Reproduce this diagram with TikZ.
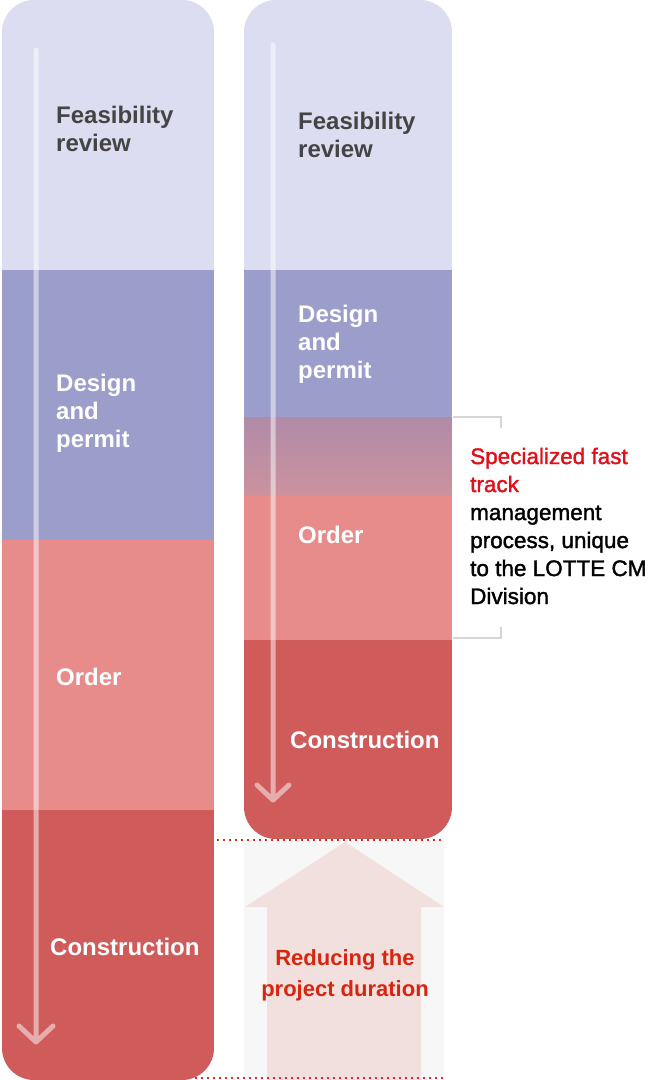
\documentclass[tikz,border=0pt]{standalone}
\usepackage{fontspec}
\setmainfont{Liberation Sans}
\newfontfamily\medfont[FakeBold=1.6]{Liberation Sans}
\definecolor{feas}{HTML}{DCDDF0}
\definecolor{design}{HTML}{9B9DCB}
\definecolor{order}{HTML}{E88C8B}
\definecolor{constr}{HTML}{D05B5B}
\definecolor{gradtop}{HTML}{B08BA8}
\definecolor{gradbot}{HTML}{CC929E}
\definecolor{feastext}{HTML}{444444}
\definecolor{hired}{HTML}{E0101A}
\definecolor{redtext}{HTML}{D8250F}
\definecolor{graybg}{HTML}{F7F7F7}
\definecolor{arrowfill}{HTML}{F2E0DE}
\definecolor{bracketgray}{HTML}{D5D5D5}
\definecolor{dotred}{HTML}{E02A1A}
\begin{document}
\begin{tikzpicture}[x=1pt,y=-1pt,
  lbl/.style={font=\bfseries\fontsize{24}{28}\selectfont, text=white, anchor=west, align=left, inner sep=0pt},
  flowline/.style={white, opacity=0.5, line width=5pt, line cap=round, line join=round},
  dotline/.style={dotred, line width=2.4pt, dash pattern=on 2.4pt off 3.6pt},
  bracketline/.style={bracketgray, line width=1.5pt}]
\useasboundingbox (0,0) rectangle (648,1080);
\fill[white] (0,0) rectangle (648,1080);

% reduction area
\fill[graybg] (244,840) rectangle (444,1080);
\fill[arrowfill] (345,842) -- (444,907) -- (421,907) -- (421,1080) -- (267,1080) -- (267,907) -- (245,907) -- cycle;

% left column
\begin{scope}
\clip[rounded corners=32pt] (2,0) rectangle (214,1080);
\fill[feas] (2,0) rectangle (214,270);
\fill[design] (2,270) rectangle (214,540);
\fill[order] (2,540) rectangle (214,810);
\fill[constr] (2,810) rectangle (214,1080);
\end{scope}
\draw[flowline] (36,50) -- (36,1042) (19,1026) -- (36,1042) -- (53,1026);

% right column
\begin{scope}
\clip[rounded corners=32pt] (244,0) rectangle (452,839);
\fill[feas] (244,0) rectangle (452,270);
\fill[design] (244,270) rectangle (452,417);
\shade[top color=gradtop, bottom color=gradbot] (244,417) rectangle (452,496);
\fill[order] (244,496) rectangle (452,640);
\fill[constr] (244,640) rectangle (452,839);
\end{scope}
\draw[flowline] (273,45) -- (273,800) (257,785) -- (273,800) -- (289,785);

% dotted lines
\draw[dotline] (217,840) -- (444,840);
\draw[dotline] (195,1078) -- (445,1078);

% bracket
\draw[bracketline] (453,417) -- (501,417) -- (501,428);
\draw[bracketline] (453,638) -- (501,638) -- (501,627);

% labels left
\node[lbl, text=feastext] (lf) at (56,129) {Feasibility\\review};
\node[lbl] (ld) at (56,413) {Design\\and\\permit};
\node[lbl] (lo) at (56,677) {Order};
\node[lbl] (lc) at (50,947) {Construction};

% labels right
\node[lbl, text=feastext] (rf) at (298,135) {Feasibility\\review};
\node[lbl] (rd) at (298,344) {Design\\and\\permit};
\node[lbl] (ro) at (298,535) {Order};
\node[lbl] (rc) at (290,740) {Construction};

\node[anchor=west, align=left, inner sep=0pt, font=\medfont\fontsize{22.5}{28}\selectfont] (note) at (470,526)
  {\textcolor{hired}{Specialized fast}\\\textcolor{hired}{track}\\management\\process, unique\\to the LOTTE CM\\Division};

\node[align=center, inner sep=0pt, text=redtext, font=\bfseries\fontsize{22}{31}\selectfont] (reduce) at (345,975)
  {Reducing the\\project duration};
\end{tikzpicture}
\end{document}
